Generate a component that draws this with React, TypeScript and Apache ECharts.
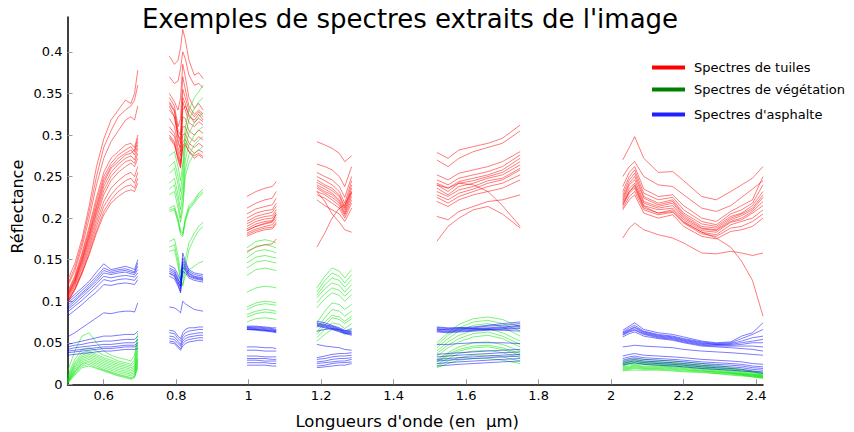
import React, { useEffect, useRef } from "react";
import * as echarts from "echarts";

// Wavelengths (µm) of each measured segment (gaps = absorption bands)
const wlS1 = [0.5, 0.52, 0.54, 0.56, 0.58, 0.6, 0.62, 0.64, 0.66, 0.675, 0.685, 0.694];
const wlS2 = [0.781, 0.795, 0.805, 0.812, 0.818, 0.825, 0.835, 0.85, 0.862, 0.874];
const wlS3 = [0.995, 1.02, 1.045, 1.065, 1.076];
const wlS4 = [1.188, 1.21, 1.23, 1.25, 1.265, 1.284];
const wlS5 = [1.519, 1.55, 1.58, 1.62, 1.66, 1.7, 1.749];
const wlS6 = [2.032, 2.05, 2.065, 2.09, 2.13, 2.17, 2.2, 2.25, 2.29, 2.33, 2.36, 2.39, 2.419];

const xTicks = [0.6, 0.8, 1, 1.2, 1.4, 1.6, 1.8, 2, 2.2, 2.4];
const yTicks = [0, 0.05, 0.1, 0.15, 0.2, 0.25, 0.3, 0.35, 0.4];

// Roof tile spectra (tuiles)
const tuilesS1 = [
  [0.125, 0.145, 0.175, 0.215, 0.262, 0.295, 0.318, 0.33, 0.342, 0.338, 0.35, 0.378],
  [0.12, 0.14, 0.17, 0.208, 0.25, 0.285, 0.305, 0.322, 0.33, 0.335, 0.342, 0.36],
  [0.118, 0.136, 0.165, 0.2, 0.24, 0.272, 0.292, 0.305, 0.318, 0.322, 0.318, 0.335],
  [0.112, 0.13, 0.158, 0.19, 0.225, 0.255, 0.272, 0.28, 0.288, 0.29, 0.285, 0.3],
  [0.11, 0.128, 0.155, 0.186, 0.22, 0.25, 0.266, 0.276, 0.282, 0.286, 0.28, 0.292],
  [0.108, 0.126, 0.152, 0.182, 0.215, 0.246, 0.262, 0.272, 0.278, 0.282, 0.276, 0.288],
  [0.106, 0.124, 0.15, 0.18, 0.212, 0.242, 0.26, 0.268, 0.276, 0.278, 0.282, 0.296],
  [0.108, 0.124, 0.148, 0.177, 0.208, 0.238, 0.255, 0.265, 0.272, 0.275, 0.27, 0.284],
  [0.105, 0.122, 0.146, 0.174, 0.205, 0.233, 0.25, 0.26, 0.268, 0.27, 0.266, 0.278],
  [0.104, 0.12, 0.143, 0.17, 0.2, 0.228, 0.245, 0.255, 0.262, 0.266, 0.262, 0.272],
  [0.102, 0.118, 0.14, 0.166, 0.195, 0.22, 0.236, 0.245, 0.252, 0.255, 0.25, 0.262],
  [0.1, 0.115, 0.136, 0.162, 0.19, 0.214, 0.228, 0.238, 0.245, 0.248, 0.242, 0.255],
  [0.098, 0.113, 0.133, 0.158, 0.185, 0.208, 0.222, 0.232, 0.238, 0.24, 0.236, 0.248],
  [0.1, 0.114, 0.134, 0.156, 0.182, 0.204, 0.218, 0.226, 0.232, 0.234, 0.232, 0.242],
];
const tuilesS2 = [
  [0.395, 0.385, 0.39, 0.405, 0.427, 0.415, 0.39, 0.372, 0.375, 0.368],
  [0.37, 0.362, 0.365, 0.38, 0.4, 0.392, 0.372, 0.36, 0.362, 0.357],
  [0.35, 0.34, 0.33, 0.345, 0.385, 0.37, 0.345, 0.332, 0.338, 0.33],
  [0.345, 0.335, 0.31, 0.32, 0.37, 0.355, 0.335, 0.325, 0.33, 0.325],
  [0.34, 0.33, 0.305, 0.3, 0.355, 0.345, 0.33, 0.322, 0.328, 0.322],
  [0.338, 0.328, 0.3, 0.29, 0.345, 0.338, 0.322, 0.318, 0.325, 0.318],
  [0.335, 0.322, 0.295, 0.28, 0.33, 0.335, 0.325, 0.315, 0.32, 0.316],
  [0.33, 0.322, 0.3, 0.295, 0.34, 0.33, 0.315, 0.31, 0.316, 0.312],
  [0.32, 0.31, 0.29, 0.285, 0.322, 0.32, 0.305, 0.3, 0.306, 0.302],
  [0.31, 0.302, 0.285, 0.275, 0.31, 0.31, 0.298, 0.292, 0.298, 0.294],
  [0.305, 0.298, 0.28, 0.268, 0.3, 0.302, 0.29, 0.285, 0.29, 0.286],
  [0.3, 0.292, 0.275, 0.265, 0.292, 0.295, 0.285, 0.278, 0.282, 0.279],
  [0.298, 0.29, 0.27, 0.26, 0.285, 0.288, 0.28, 0.272, 0.276, 0.272],
  [0.296, 0.288, 0.272, 0.262, 0.288, 0.29, 0.28, 0.275, 0.278, 0.274],
];
const tuilesS3 = [
  [0.226, 0.232, 0.236, 0.238, 0.244],
  [0.212, 0.218, 0.222, 0.224, 0.232],
  [0.205, 0.211, 0.214, 0.216, 0.224],
  [0.2, 0.206, 0.209, 0.21, 0.218],
  [0.196, 0.202, 0.205, 0.207, 0.214],
  [0.193, 0.199, 0.202, 0.203, 0.21],
  [0.19, 0.196, 0.199, 0.2, 0.207],
  [0.187, 0.193, 0.196, 0.197, 0.204],
  [0.185, 0.19, 0.193, 0.195, 0.201],
  [0.182, 0.187, 0.19, 0.192, 0.198],
  [0.18, 0.185, 0.188, 0.189, 0.195],
  [0.178, 0.183, 0.186, 0.187, 0.193],
  [0.16, 0.165, 0.168, 0.169, 0.175],
  [0.185, 0.19, 0.194, 0.196, 0.205],
];
const tuilesS4 = [
  [0.292, 0.288, 0.284, 0.278, 0.268, 0.275],
  [0.265, 0.262, 0.258, 0.25, 0.238, 0.262],
  [0.255, 0.25, 0.246, 0.238, 0.225, 0.25],
  [0.25, 0.245, 0.24, 0.232, 0.218, 0.245],
  [0.246, 0.24, 0.236, 0.228, 0.214, 0.24],
  [0.243, 0.238, 0.233, 0.226, 0.212, 0.236],
  [0.24, 0.235, 0.23, 0.222, 0.21, 0.232],
  [0.238, 0.232, 0.228, 0.22, 0.207, 0.23],
  [0.236, 0.23, 0.225, 0.218, 0.205, 0.226],
  [0.232, 0.228, 0.222, 0.215, 0.203, 0.222],
  [0.228, 0.224, 0.218, 0.212, 0.2, 0.218],
  [0.222, 0.215, 0.21, 0.205, 0.196, 0.212],
  [0.165, 0.182, 0.2, 0.212, 0.216, 0.232],
  [0.232, 0.22, 0.205, 0.195, 0.186, 0.183],
];
const tuilesS5 = [
  [0.279, 0.272, 0.282, 0.286, 0.29, 0.296, 0.312],
  [0.27, 0.262, 0.272, 0.28, 0.285, 0.29, 0.305],
  [0.252, 0.246, 0.254, 0.258, 0.262, 0.268, 0.28],
  [0.246, 0.24, 0.248, 0.252, 0.256, 0.262, 0.276],
  [0.242, 0.236, 0.244, 0.248, 0.252, 0.258, 0.272],
  [0.24, 0.232, 0.242, 0.245, 0.25, 0.255, 0.268],
  [0.236, 0.228, 0.238, 0.242, 0.248, 0.252, 0.264],
  [0.232, 0.226, 0.234, 0.238, 0.245, 0.248, 0.26],
  [0.228, 0.222, 0.23, 0.235, 0.242, 0.246, 0.258],
  [0.225, 0.218, 0.226, 0.232, 0.238, 0.242, 0.252],
  [0.22, 0.214, 0.222, 0.228, 0.232, 0.236, 0.246],
  [0.202, 0.198, 0.208, 0.214, 0.22, 0.222, 0.228],
  [0.24, 0.236, 0.242, 0.24, 0.232, 0.215, 0.19],
  [0.172, 0.19, 0.2, 0.21, 0.214, 0.205, 0.188],
];
const tuilesS6 = [
  [0.27, 0.285, 0.298, 0.272, 0.255, 0.256, 0.245, 0.226, 0.222, 0.232, 0.24, 0.248, 0.262],
  [0.25, 0.262, 0.268, 0.25, 0.24, 0.238, 0.228, 0.212, 0.208, 0.215, 0.225, 0.235, 0.245],
  [0.238, 0.255, 0.262, 0.235, 0.226, 0.228, 0.215, 0.2, 0.196, 0.208, 0.215, 0.222, 0.25],
  [0.232, 0.25, 0.258, 0.23, 0.222, 0.225, 0.21, 0.196, 0.192, 0.205, 0.21, 0.218, 0.24],
  [0.228, 0.246, 0.254, 0.226, 0.218, 0.222, 0.206, 0.193, 0.19, 0.202, 0.206, 0.215, 0.232],
  [0.225, 0.242, 0.25, 0.224, 0.216, 0.22, 0.204, 0.19, 0.188, 0.2, 0.205, 0.212, 0.228],
  [0.222, 0.24, 0.246, 0.22, 0.214, 0.218, 0.202, 0.188, 0.186, 0.198, 0.203, 0.21, 0.225],
  [0.22, 0.236, 0.242, 0.218, 0.212, 0.215, 0.2, 0.187, 0.185, 0.196, 0.2, 0.208, 0.22],
  [0.218, 0.232, 0.24, 0.215, 0.21, 0.212, 0.198, 0.185, 0.183, 0.195, 0.198, 0.206, 0.215],
  [0.215, 0.23, 0.236, 0.212, 0.206, 0.21, 0.196, 0.183, 0.18, 0.192, 0.196, 0.2, 0.21],
  [0.212, 0.226, 0.232, 0.21, 0.204, 0.207, 0.194, 0.181, 0.178, 0.188, 0.19, 0.196, 0.205],
  [0.21, 0.222, 0.228, 0.206, 0.2, 0.204, 0.19, 0.178, 0.175, 0.184, 0.186, 0.19, 0.2],
  [0.216, 0.232, 0.238, 0.214, 0.206, 0.208, 0.195, 0.183, 0.176, 0.165, 0.148, 0.125, 0.082],
  [0.176, 0.188, 0.194, 0.186, 0.18, 0.176, 0.17, 0.158, 0.157, 0.16, 0.158, 0.155, 0.158],
];

// Vegetation spectra (végétation)
const vegetationS1 = [
  [0.015, 0.04, 0.058, 0.062, 0.05, 0.04, 0.035, 0.032, 0.03, 0.028, 0.035, 0.062],
  [0.01, 0.03, 0.042, 0.044, 0.04, 0.035, 0.032, 0.028, 0.026, 0.024, 0.03, 0.055],
  [0.008, 0.026, 0.038, 0.04, 0.036, 0.032, 0.029, 0.026, 0.024, 0.022, 0.026, 0.05],
  [0.006, 0.024, 0.035, 0.038, 0.034, 0.03, 0.027, 0.024, 0.022, 0.02, 0.022, 0.045],
  [0.005, 0.022, 0.033, 0.036, 0.032, 0.028, 0.025, 0.022, 0.02, 0.018, 0.02, 0.04],
  [0.004, 0.02, 0.031, 0.034, 0.03, 0.026, 0.023, 0.02, 0.018, 0.016, 0.018, 0.036],
  [0.003, 0.018, 0.029, 0.032, 0.028, 0.024, 0.021, 0.018, 0.016, 0.014, 0.016, 0.032],
  [0.003, 0.016, 0.027, 0.03, 0.026, 0.022, 0.019, 0.016, 0.014, 0.012, 0.014, 0.03],
  [0.002, 0.015, 0.025, 0.028, 0.024, 0.02, 0.017, 0.014, 0.012, 0.01, 0.012, 0.028],
  [0.002, 0.014, 0.024, 0.026, 0.022, 0.018, 0.015, 0.012, 0.01, 0.008, 0.01, 0.025],
  [0.001, 0.012, 0.022, 0.024, 0.02, 0.017, 0.014, 0.011, 0.009, 0.007, 0.009, 0.022],
  [0.001, 0.011, 0.02, 0.022, 0.019, 0.016, 0.013, 0.01, 0.008, 0.006, 0.008, 0.02],
];
const vegetationS2 = [
  [0.275, 0.28, 0.262, 0.245, 0.265, 0.31, 0.33, 0.345, 0.352, 0.36],
  [0.262, 0.268, 0.25, 0.232, 0.255, 0.298, 0.318, 0.332, 0.34, 0.345],
  [0.254, 0.26, 0.24, 0.222, 0.24, 0.285, 0.302, 0.315, 0.322, 0.327],
  [0.242, 0.248, 0.228, 0.21, 0.228, 0.27, 0.288, 0.3, 0.306, 0.31],
  [0.235, 0.24, 0.22, 0.2, 0.218, 0.258, 0.276, 0.288, 0.294, 0.298],
  [0.228, 0.232, 0.212, 0.195, 0.21, 0.25, 0.266, 0.278, 0.282, 0.286],
  [0.212, 0.215, 0.2, 0.185, 0.182, 0.2, 0.215, 0.222, 0.23, 0.235],
  [0.21, 0.212, 0.197, 0.183, 0.18, 0.198, 0.212, 0.22, 0.228, 0.232],
  [0.208, 0.21, 0.195, 0.18, 0.178, 0.195, 0.21, 0.218, 0.225, 0.23],
  [0.172, 0.175, 0.155, 0.135, 0.128, 0.15, 0.17, 0.182, 0.19, 0.195],
  [0.165, 0.168, 0.148, 0.125, 0.118, 0.14, 0.162, 0.176, 0.185, 0.19],
  [0.16, 0.162, 0.142, 0.125, 0.12, 0.13, 0.138, 0.142, 0.146, 0.148],
];
const vegetationS3 = [
  [0.164, 0.172, 0.174, 0.172, 0.17],
  [0.158, 0.166, 0.168, 0.166, 0.164],
  [0.152, 0.16, 0.162, 0.16, 0.158],
  [0.146, 0.153, 0.155, 0.153, 0.152],
  [0.14, 0.147, 0.149, 0.147, 0.146],
  [0.131, 0.138, 0.14, 0.138, 0.137],
  [0.111, 0.116, 0.118, 0.117, 0.116],
  [0.093, 0.098, 0.1, 0.099, 0.098],
  [0.09, 0.095, 0.097, 0.096, 0.095],
  [0.084, 0.088, 0.09, 0.089, 0.088],
  [0.081, 0.085, 0.087, 0.086, 0.085],
  [0.075, 0.079, 0.08, 0.079, 0.078],
];
const vegetationS4 = [
  [0.116, 0.13, 0.14, 0.136, 0.128, 0.138],
  [0.111, 0.125, 0.134, 0.13, 0.122, 0.132],
  [0.107, 0.12, 0.128, 0.125, 0.117, 0.126],
  [0.104, 0.115, 0.122, 0.119, 0.111, 0.12],
  [0.098, 0.109, 0.116, 0.113, 0.106, 0.114],
  [0.092, 0.103, 0.11, 0.107, 0.1, 0.108],
  [0.074, 0.088, 0.098, 0.096, 0.09, 0.096],
  [0.068, 0.08, 0.09, 0.088, 0.082, 0.088],
  [0.063, 0.075, 0.083, 0.081, 0.076, 0.082],
  [0.06, 0.071, 0.08, 0.078, 0.073, 0.079],
  [0.056, 0.066, 0.074, 0.072, 0.067, 0.073],
  [0.052, 0.06, 0.066, 0.065, 0.06, 0.066],
];
const vegetationS5 = [
  [0.05, 0.062, 0.072, 0.079, 0.081, 0.078, 0.069],
  [0.047, 0.059, 0.068, 0.075, 0.077, 0.073, 0.064],
  [0.044, 0.055, 0.064, 0.071, 0.073, 0.069, 0.058],
  [0.04, 0.051, 0.059, 0.065, 0.067, 0.062, 0.052],
  [0.037, 0.047, 0.055, 0.061, 0.063, 0.058, 0.048],
  [0.034, 0.044, 0.051, 0.057, 0.059, 0.055, 0.045],
  [0.03, 0.038, 0.045, 0.05, 0.051, 0.048, 0.04],
  [0.028, 0.036, 0.042, 0.046, 0.047, 0.044, 0.037],
  [0.027, 0.034, 0.04, 0.044, 0.045, 0.042, 0.035],
  [0.024, 0.031, 0.037, 0.04, 0.041, 0.038, 0.032],
  [0.022, 0.028, 0.032, 0.035, 0.035, 0.033, 0.028],
  [0.02, 0.025, 0.029, 0.031, 0.031, 0.029, 0.025],
];
const vegetationS6 = [
  [0.028, 0.03, 0.031, 0.03, 0.029, 0.028, 0.027, 0.025, 0.023, 0.02, 0.018, 0.016, 0.014],
  [0.026, 0.028, 0.029, 0.028, 0.027, 0.026, 0.025, 0.023, 0.021, 0.019, 0.017, 0.015, 0.013],
  [0.025, 0.027, 0.028, 0.027, 0.026, 0.025, 0.024, 0.022, 0.02, 0.018, 0.016, 0.014, 0.012],
  [0.024, 0.026, 0.026, 0.026, 0.025, 0.024, 0.023, 0.021, 0.019, 0.017, 0.015, 0.013, 0.011],
  [0.023, 0.025, 0.025, 0.025, 0.024, 0.023, 0.022, 0.02, 0.018, 0.016, 0.014, 0.012, 0.011],
  [0.022, 0.024, 0.024, 0.024, 0.023, 0.022, 0.021, 0.019, 0.017, 0.015, 0.013, 0.012, 0.01],
  [0.021, 0.022, 0.023, 0.022, 0.022, 0.021, 0.02, 0.018, 0.016, 0.014, 0.013, 0.011, 0.01],
  [0.02, 0.021, 0.022, 0.021, 0.021, 0.02, 0.019, 0.017, 0.015, 0.014, 0.012, 0.011, 0.009],
  [0.019, 0.02, 0.021, 0.02, 0.02, 0.019, 0.018, 0.016, 0.015, 0.013, 0.012, 0.01, 0.009],
  [0.018, 0.019, 0.02, 0.019, 0.019, 0.018, 0.017, 0.016, 0.014, 0.013, 0.011, 0.01, 0.008],
  [0.017, 0.018, 0.019, 0.018, 0.018, 0.017, 0.016, 0.015, 0.013, 0.012, 0.011, 0.009, 0.008],
  [0.016, 0.017, 0.017, 0.017, 0.017, 0.016, 0.015, 0.014, 0.013, 0.011, 0.01, 0.009, 0.007],
];

// Asphalt spectra (asphalte)
const asphalteS1 = [
  [0.1, 0.108, 0.116, 0.124, 0.135, 0.145, 0.138, 0.14, 0.142, 0.14, 0.138, 0.15],
  [0.098, 0.105, 0.113, 0.121, 0.13, 0.14, 0.136, 0.138, 0.139, 0.137, 0.135, 0.146],
  [0.095, 0.102, 0.11, 0.118, 0.127, 0.137, 0.134, 0.136, 0.137, 0.135, 0.134, 0.142],
  [0.092, 0.1, 0.108, 0.116, 0.124, 0.134, 0.132, 0.134, 0.135, 0.133, 0.132, 0.138],
  [0.09, 0.097, 0.105, 0.113, 0.121, 0.13, 0.128, 0.13, 0.131, 0.13, 0.129, 0.134],
  [0.087, 0.094, 0.101, 0.109, 0.117, 0.126, 0.124, 0.126, 0.127, 0.126, 0.125, 0.13],
  [0.082, 0.089, 0.096, 0.104, 0.111, 0.12, 0.119, 0.121, 0.122, 0.121, 0.12, 0.126],
  [0.057, 0.062, 0.068, 0.074, 0.08, 0.086, 0.085, 0.087, 0.088, 0.088, 0.087, 0.098],
  [0.048, 0.05, 0.052, 0.054, 0.056, 0.058, 0.058, 0.059, 0.06, 0.06, 0.06, 0.064],
  [0.045, 0.047, 0.048, 0.05, 0.051, 0.052, 0.052, 0.053, 0.054, 0.054, 0.054, 0.058],
  [0.042, 0.044, 0.045, 0.046, 0.047, 0.048, 0.048, 0.049, 0.05, 0.05, 0.05, 0.054],
  [0.04, 0.041, 0.042, 0.043, 0.044, 0.045, 0.045, 0.046, 0.047, 0.047, 0.047, 0.05],
  [0.038, 0.039, 0.04, 0.041, 0.042, 0.043, 0.043, 0.044, 0.045, 0.045, 0.045, 0.047],
  [0.035, 0.036, 0.037, 0.038, 0.039, 0.04, 0.04, 0.041, 0.042, 0.042, 0.042, 0.043],
];
const asphalteS2 = [
  [0.143, 0.14, 0.132, 0.125, 0.158, 0.148, 0.138, 0.134, 0.133, 0.132],
  [0.14, 0.137, 0.128, 0.118, 0.152, 0.145, 0.136, 0.132, 0.131, 0.13],
  [0.138, 0.135, 0.126, 0.122, 0.148, 0.142, 0.134, 0.13, 0.129, 0.128],
  [0.136, 0.133, 0.124, 0.115, 0.145, 0.14, 0.133, 0.129, 0.128, 0.127],
  [0.134, 0.131, 0.122, 0.118, 0.142, 0.138, 0.131, 0.128, 0.127, 0.126],
  [0.133, 0.13, 0.12, 0.112, 0.14, 0.137, 0.13, 0.127, 0.126, 0.125],
  [0.13, 0.127, 0.118, 0.11, 0.136, 0.134, 0.128, 0.125, 0.124, 0.123],
  [0.093, 0.092, 0.089, 0.086, 0.1, 0.097, 0.094, 0.09, 0.089, 0.088],
  [0.065, 0.064, 0.058, 0.055, 0.062, 0.066, 0.068, 0.068, 0.069, 0.069],
  [0.062, 0.061, 0.055, 0.052, 0.058, 0.062, 0.064, 0.065, 0.066, 0.066],
  [0.058, 0.057, 0.052, 0.048, 0.055, 0.058, 0.06, 0.061, 0.062, 0.062],
  [0.055, 0.054, 0.049, 0.046, 0.052, 0.055, 0.057, 0.058, 0.059, 0.059],
  [0.052, 0.051, 0.046, 0.043, 0.049, 0.052, 0.054, 0.055, 0.056, 0.056],
  [0.05, 0.049, 0.044, 0.041, 0.046, 0.049, 0.051, 0.052, 0.053, 0.053],
];
const asphalteS3 = [
  [0.07, 0.07, 0.069, 0.068, 0.068],
  [0.069, 0.069, 0.068, 0.067, 0.066],
  [0.068, 0.068, 0.067, 0.066, 0.065],
  [0.068, 0.067, 0.066, 0.065, 0.064],
  [0.067, 0.066, 0.065, 0.064, 0.064],
  [0.066, 0.066, 0.065, 0.064, 0.063],
  [0.066, 0.065, 0.064, 0.063, 0.062],
  [0.045, 0.045, 0.044, 0.044, 0.043],
  [0.041, 0.041, 0.04, 0.04, 0.04],
  [0.034, 0.034, 0.033, 0.033, 0.033],
  [0.031, 0.031, 0.031, 0.03, 0.03],
  [0.029, 0.029, 0.028, 0.028, 0.028],
  [0.026, 0.026, 0.026, 0.025, 0.025],
  [0.023, 0.023, 0.023, 0.022, 0.022],
];
const asphalteS4 = [
  [0.076, 0.074, 0.071, 0.068, 0.065, 0.064],
  [0.074, 0.072, 0.07, 0.067, 0.064, 0.063],
  [0.073, 0.071, 0.069, 0.066, 0.063, 0.062],
  [0.072, 0.07, 0.068, 0.065, 0.062, 0.061],
  [0.071, 0.069, 0.067, 0.064, 0.062, 0.06],
  [0.064, 0.066, 0.067, 0.066, 0.064, 0.067],
  [0.07, 0.068, 0.066, 0.063, 0.061, 0.059],
  [0.048, 0.046, 0.045, 0.044, 0.042, 0.041],
  [0.032, 0.034, 0.036, 0.037, 0.037, 0.038],
  [0.03, 0.031, 0.033, 0.034, 0.034, 0.035],
  [0.027, 0.028, 0.03, 0.031, 0.031, 0.032],
  [0.025, 0.026, 0.027, 0.028, 0.028, 0.03],
  [0.022, 0.023, 0.025, 0.026, 0.026, 0.027],
  [0.02, 0.021, 0.022, 0.023, 0.023, 0.025],
];
const asphalteS5 = [
  [0.068, 0.067, 0.068, 0.069, 0.071, 0.073, 0.075],
  [0.066, 0.066, 0.067, 0.068, 0.07, 0.071, 0.073],
  [0.067, 0.065, 0.066, 0.067, 0.068, 0.069, 0.071],
  [0.065, 0.064, 0.065, 0.066, 0.067, 0.068, 0.07],
  [0.064, 0.063, 0.064, 0.065, 0.066, 0.067, 0.068],
  [0.069, 0.068, 0.068, 0.067, 0.066, 0.065, 0.064],
  [0.063, 0.062, 0.063, 0.064, 0.065, 0.066, 0.067],
  [0.048, 0.048, 0.049, 0.05, 0.05, 0.05, 0.049],
  [0.036, 0.037, 0.038, 0.039, 0.04, 0.041, 0.042],
  [0.033, 0.034, 0.035, 0.036, 0.037, 0.038, 0.039],
  [0.03, 0.031, 0.032, 0.033, 0.034, 0.035, 0.036],
  [0.028, 0.029, 0.03, 0.031, 0.032, 0.033, 0.034],
  [0.025, 0.026, 0.027, 0.028, 0.029, 0.03, 0.031],
  [0.022, 0.023, 0.024, 0.025, 0.026, 0.027, 0.028],
];
const asphalteS6 = [
  [0.065, 0.07, 0.074, 0.066, 0.062, 0.06, 0.057, 0.052, 0.05, 0.051, 0.058, 0.062, 0.074],
  [0.063, 0.068, 0.071, 0.064, 0.06, 0.058, 0.055, 0.051, 0.049, 0.05, 0.055, 0.06, 0.066],
  [0.062, 0.066, 0.069, 0.063, 0.059, 0.057, 0.054, 0.05, 0.048, 0.049, 0.052, 0.056, 0.058],
  [0.061, 0.065, 0.068, 0.062, 0.058, 0.056, 0.053, 0.049, 0.048, 0.048, 0.05, 0.052, 0.054],
  [0.06, 0.064, 0.066, 0.061, 0.057, 0.055, 0.052, 0.048, 0.047, 0.047, 0.048, 0.05, 0.05],
  [0.059, 0.063, 0.065, 0.06, 0.056, 0.054, 0.051, 0.047, 0.046, 0.046, 0.046, 0.046, 0.045],
  [0.057, 0.061, 0.063, 0.058, 0.055, 0.053, 0.05, 0.046, 0.045, 0.044, 0.043, 0.042, 0.04],
  [0.045, 0.046, 0.047, 0.046, 0.045, 0.044, 0.042, 0.04, 0.039, 0.038, 0.037, 0.036, 0.035],
  [0.034, 0.036, 0.037, 0.035, 0.034, 0.033, 0.032, 0.03, 0.029, 0.028, 0.027, 0.025, 0.024],
  [0.031, 0.033, 0.034, 0.032, 0.031, 0.03, 0.029, 0.027, 0.026, 0.025, 0.024, 0.022, 0.021],
  [0.029, 0.031, 0.032, 0.03, 0.029, 0.028, 0.027, 0.025, 0.024, 0.023, 0.022, 0.02, 0.019],
  [0.027, 0.029, 0.03, 0.028, 0.027, 0.026, 0.025, 0.023, 0.022, 0.021, 0.02, 0.018, 0.017],
  [0.025, 0.027, 0.028, 0.026, 0.025, 0.024, 0.023, 0.021, 0.02, 0.019, 0.018, 0.016, 0.015],
  [0.023, 0.025, 0.026, 0.024, 0.023, 0.022, 0.021, 0.019, 0.018, 0.017, 0.016, 0.015, 0.013],
];

const wavelengths = [wlS1, wlS2, wlS3, wlS4, wlS5, wlS6];
const classes = [
  { name: "Spectres de tuiles", line: "#ff0000", legend: "#ff0000", segs: [tuilesS1, tuilesS2, tuilesS3, tuilesS4, tuilesS5, tuilesS6] },
  { name: "Spectres de végétation", line: "#00e600", legend: "#008000", segs: [vegetationS1, vegetationS2, vegetationS3, vegetationS4, vegetationS5, vegetationS6] },
  { name: "Spectres d'asphalte", line: "#0000ff", legend: "#1f1fff", segs: [asphalteS1, asphalteS2, asphalteS3, asphalteS4, asphalteS5, asphalteS6] },
];

const FONT = "DejaVu Sans";

function buildSeries() {
  const out: any[] = [];
  classes.forEach((c) => {
    c.segs.forEach((seg, k) => {
      seg.forEach((row) => {
        out.push({
          type: "line",
          silent: true,
          symbol: "none",
          data: wavelengths[k].map((x, i) => [x, row[i]]),
          lineStyle: { color: c.line, width: 0.8, opacity: 0.65 },
        });
      });
    });
  });
  return out;
}

function buildLegend() {
  const els: any[] = [];
  const ys = [67.5, 89.5, 114.5];
  classes.forEach((c, i) => {
    els.push({
      type: "line",
      shape: { x1: 652, y1: ys[i], x2: 685, y2: ys[i] },
      style: { stroke: c.legend, lineWidth: 4 },
    });
    els.push({
      type: "text",
      x: 694,
      y: ys[i],
      style: { text: c.name, fontSize: 13, fontFamily: FONT, fill: "#000", align: "left", verticalAlign: "middle" },
    });
  });
  return els;
}

const fmt = (v: number) => String(+v.toFixed(2));

export default function App() {
  const ref = useRef<HTMLDivElement>(null);
  useEffect(() => {
    if (!ref.current) return;
    const chart = echarts.init(ref.current, null, { renderer: "svg" });
    chart.setOption({
      animation: false,
      backgroundColor: "#fff",
      grid: { left: 67.5, right: 91, top: 17, bottom: 47.7, containLabel: false, outerBoundsMode: "none" },
      xAxis: {
        type: "value",
        min: 0.5,
        max: 2.419,
        name: "Longueurs d'onde (en  µm)",
        nameLocation: "middle",
        nameGap: 29,
        nameTextStyle: { fontSize: 16.5, fontFamily: FONT, color: "#000", padding: [0, 16, 0, 0] },
        axisLine: { show: true, lineStyle: { color: "#000", width: 1.5 } },
        axisTick: { show: true, inside: true, length: 5, customValues: xTicks, lineStyle: { color: "#999" } },
        axisLabel: { customValues: xTicks, formatter: fmt, fontSize: 13, fontFamily: FONT, color: "#000", margin: 5 },
        splitLine: { show: false },
      },
      yAxis: {
        type: "value",
        min: 0,
        max: 0.442,
        name: "Réflectance",
        nameLocation: "middle",
        nameRotate: 90,
        nameGap: 42,
        nameMoveOverlap: false,
        nameTextStyle: { fontSize: 16, fontFamily: FONT, color: "#000", padding: [0, 12, 0, 0] },
        axisLine: { show: true, lineStyle: { color: "#000", width: 1.5 } },
        axisTick: { show: true, inside: true, length: 5, customValues: yTicks, lineStyle: { color: "#999" } },
        axisLabel: { customValues: yTicks, formatter: fmt, fontSize: 13, fontFamily: FONT, color: "#000", margin: 5 },
        splitLine: { show: false },
      },
      graphic: [
        {
          type: "text",
          x: 410,
          y: 19,
          style: {
            text: "Exemples de spectres extraits de l'image",
            fontSize: 26,
            fontFamily: FONT,
            fill: "#000",
            align: "center",
            verticalAlign: "middle",
          },
        },
        ...buildLegend(),
      ],
      series: buildSeries(),
    });
    return () => chart.dispose();
  }, []);
  return <div ref={ref} style={{ position: "fixed", left: 0, top: 0, width: 854, height: 432 }} />;
}
